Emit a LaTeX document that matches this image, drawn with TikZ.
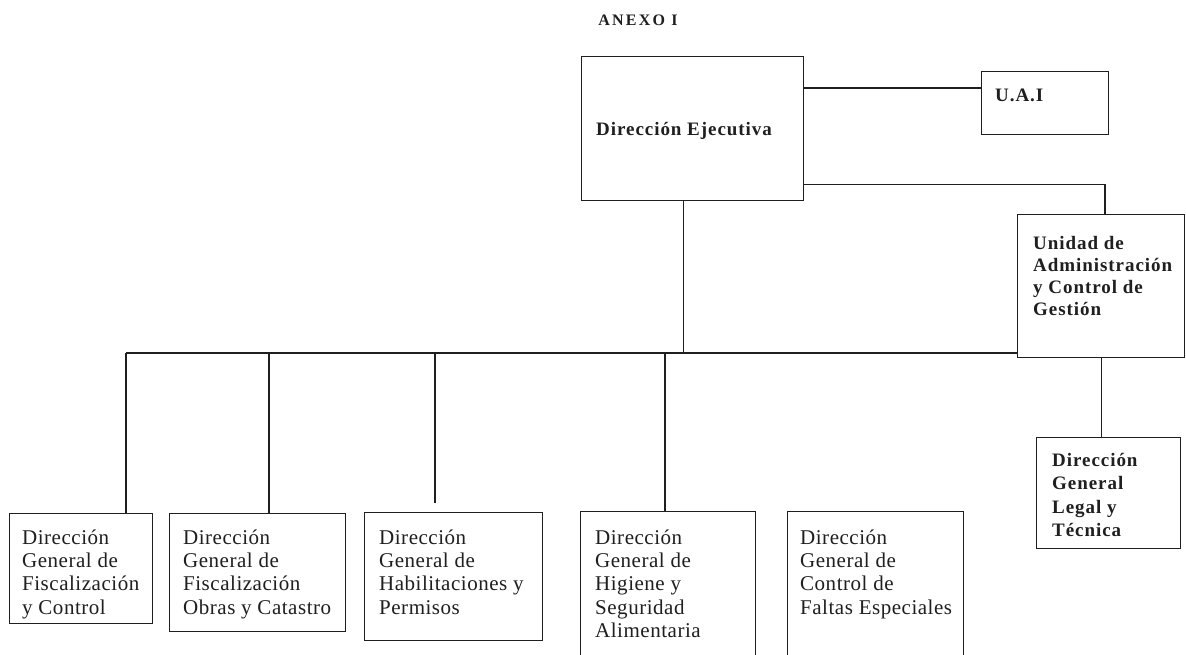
\documentclass[tikz,border=0pt]{standalone}
\usepackage{fontspec}
\setmainfont{Liberation Serif}
\newfontfamily\spfont[LetterSpace=5]{Liberation Serif}
\newfontfamily\rgfont[LetterSpace=2.5]{Liberation Serif}
\newfontfamily\anxfont[LetterSpace=14]{Liberation Serif}
\usetikzlibrary{calc}
\definecolor{ink}{gray}{0.12}
\begin{document}
\begin{tikzpicture}[x=1pt,y=-1pt,
  box/.style={draw=ink, line width=1.4pt, inner sep=0pt, anchor=north west},
  conn/.style={draw=ink, line width=1.4pt},
  lbl/.style={inner sep=0pt, anchor=north west, align=left, text=ink,
              font=\rgfont\fontsize{21}{23.3}\selectfont},
  blbl/.style={inner sep=0pt, anchor=north west, align=left, text=ink,
              font=\spfont\bfseries\fontsize{19}{22}\selectfont}]
\clip (0,0) rectangle (1186,654);
\fill[white] (0,0) rectangle (1186,654);

% title
\node[inner sep=0pt, anchor=base, text=ink, font=\anxfont\bfseries\fontsize{16}{18}\selectfont] (anexo) at (638,25) {ANEXO I};

% boxes
\node[box, minimum width=222pt, minimum height=144pt] (de) at (581,56) {};
\node[box, minimum width=127pt, minimum height=63pt] (uai) at (981,71) {};
\node[box, minimum width=167pt, minimum height=143pt] (uacg) at (1017,214) {};
\node[box, minimum width=144pt, minimum height=111pt] (dglt) at (1036,437) {};
\node[box, minimum width=143pt, minimum height=110pt] (b1) at (9,513) {};
\node[box, minimum width=176pt, minimum height=118pt] (b2) at (169,513) {};
\node[box, minimum width=178pt, minimum height=128pt] (b3) at (364,512) {};
\node[box, minimum width=175pt, minimum height=160pt] (b4) at (580,511) {};
\node[box, minimum width=176pt, minimum height=160pt] (b5) at (787,511) {};

% texts
\node[blbl, anchor=base west] (tde) at (596,135) {Dirección Ejecutiva};
\node[blbl, anchor=base west] (tuai) at (995,101.5) {U.A.I};
\node[blbl] (tuacg) at (1033,236) {Unidad de\\Administración\\y Control de\\Gestión};
\node[blbl, font=\spfont\bfseries\fontsize{19}{23.3}\selectfont] (tdglt) at (1052,453) {Dirección\\General\\Legal y\\Técnica};
\node[lbl] (t1) at (22,529.5) {Dirección\\General de\\Fiscalización\\y Control};
\node[lbl] (t2) at (183,529.5) {Dirección\\General de\\Fiscalización\\Obras y Catastro};
\node[lbl] (t3) at (379,529.5) {Dirección\\General de\\Habilitaciones y\\Permisos};
\node[lbl] (t4) at (595,529.5) {Dirección\\General de\\Higiene y\\Seguridad\\Alimentaria};
\node[lbl] (t5) at (800,529.5) {Dirección\\General de\\Control de\\Faltas Especiales};

% connectors
\coordinate (j1) at ([yshift=-17pt]uai.north west);
\draw[conn] (j1) -- (j1 -| de.east);
\coordinate (j2) at ([yshift=17pt]de.south east);
\coordinate (j3) at ([xshift=88pt]uacg.north west);
\draw[conn] (j2) -| (j3);

\coordinate (d0) at ([xshift=-9pt]de.south);
\coordinate (busL) at (126,353);
\coordinate (busR) at (1017,353);
\draw[conn] (d0) -- (d0 |- busL);
\draw[conn] (busL) -- (busR);
\coordinate (p1) at ([xshift=117pt]b1.north west);
\coordinate (p2) at ([xshift=100pt]b2.north west);
\coordinate (p3) at ([xshift=71pt]b3.north west);
\coordinate (p4) at ([xshift=85pt]b4.north west);
\draw[conn] (p1 |- busL) -- (p1);
\draw[conn] (p2 |- busL) -- (p2);
\draw[conn] (p3 |- busL) -- ([yshift=9pt]p3);
\draw[conn] (p4 |- busL) -- (p4);

\draw[conn] (uacg.south) -- (uacg.south |- dglt.north);
\end{tikzpicture}
\end{document}
